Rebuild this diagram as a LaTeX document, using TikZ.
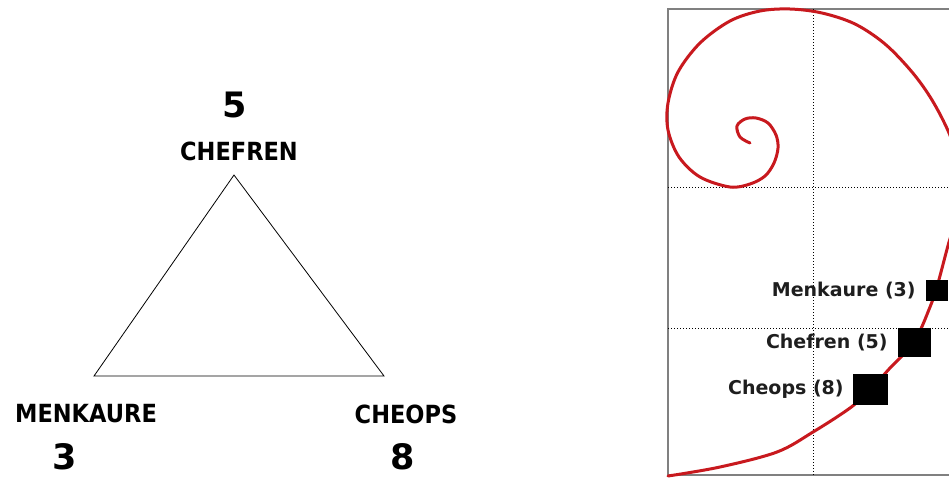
\documentclass[tikz,border=0pt]{standalone}
\usepackage{fontspec}
\setmainfont{DejaVu Sans}
\newfontfamily\capsfont[FakeStretch=0.9]{DejaVu Sans}
\usepackage{xcolor}
\usepackage{tikz}
\usetikzlibrary{positioning}
\definecolor{spiralred}{RGB}{200, 25, 30}
\definecolor{framegray}{RGB}{128, 128, 128}
\definecolor{labelgray}{RGB}{30, 30, 30}

\begin{document}
\begin{tikzpicture}[
    x=1pt, y=-1pt,
    pyrname/.style={font=\capsfont\bfseries\fontsize{25}{28}\selectfont, inner sep=0pt},
    pyrnum/.style={font=\bfseries\fontsize{35}{36}\selectfont, inner sep=0pt},
    pyrbox/.style={rectangle, fill=black, inner sep=0pt},
    pyrlabel/.style={font=\bfseries\fontsize{19}{22}\selectfont, text=labelgray, inner sep=0pt},
    gridline/.style={dash pattern=on 1pt off 2pt, line width=1pt},
    spiral/.style={spiralred, line width=3pt, line cap=round}
]
\useasboundingbox (0,0) rectangle (949,477);

% Triangle
\coordinate (apex) at (234,175);
\coordinate (left) at (94,376);
\coordinate (right) at (384,376);
\draw[line width=0.8pt] (left) -- (apex) -- (right) -- cycle;

\node[pyrnum] (n5) at (235,105) {5};
\node[pyrname] (chefren) at (239,151) {CHEFREN};
\node[pyrname] (menkaure) at (86,414) {MENKAURE};
\node[pyrnum] (n3) at (65,457) {3};
\node[pyrname] (cheops) at (406,414) {CHEOPS};
\node[pyrnum] (n8) at (403,457) {8};

% Spiral panel
\begin{scope}
\clip (0,0) rectangle (949,477);
\draw[framegray, line width=1.5pt] (668,9) rectangle (975,475);
\draw[gridline] (813,9) -- (813,475);
\draw[gridline] (668,187) -- (949,187);
\draw[gridline] (668,328) -- (949,328);

\draw[spiral] plot[smooth, tension=0.55] coordinates {
    (750,143) (740,137) (737,126) (745,119) (756,118) (768,123) (776,135)
    (778,148) (774,163) (765,176) (750,184) (730,187) (700,177) (679,157)
    (668,130) (668,103) (678,72) (700,43) (730,21) (760,11) (790,9) (822,13)
    (855,24) (885,44) (912,72) (932,100) (949,133) (958,162) (961,190)
    (957,218) (949,242) (938,283) (930,307) (914,342) (890,368) (870,390)
    (850,408) (813,432) (777,452) (720,467) (668,476)};

% Markers
\node[pyrbox, minimum width=22pt, minimum height=21pt] (boxM) at (937,290.5) {};
\node[pyrbox, minimum width=33pt, minimum height=29pt] (boxCf) at (914.5,342.5) {};
\node[pyrbox, minimum width=35pt, minimum height=31pt] (boxCo) at (870.5,389.5) {};
\end{scope}

\node[pyrlabel, left=10pt of boxM] (labM) {Menkaure (3)};
\node[pyrlabel, left=10pt of boxCf] (labCf) {Chefren (5)};
\node[pyrlabel, left=9pt of boxCo] (labCo) {Cheops (8)};

\end{tikzpicture}
\end{document}
